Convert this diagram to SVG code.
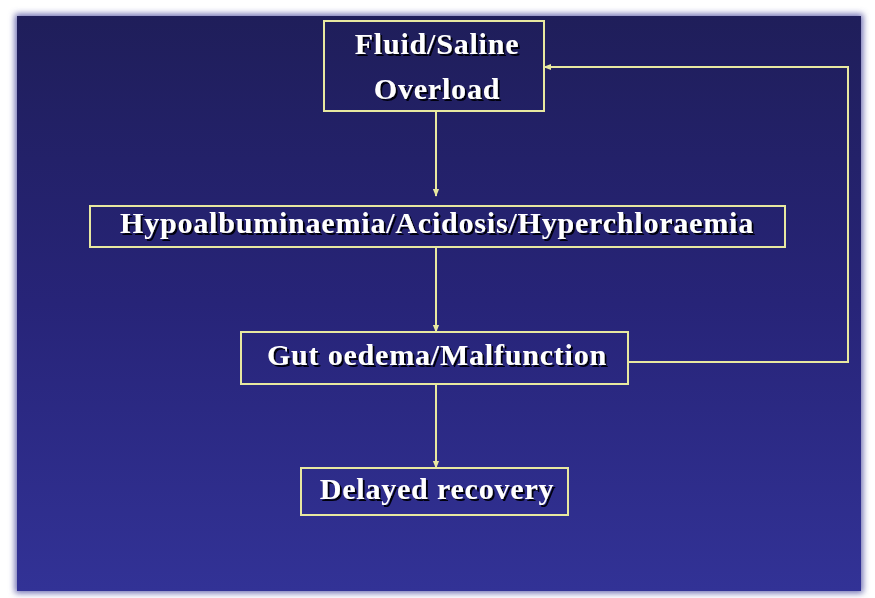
<svg xmlns="http://www.w3.org/2000/svg" width="875" height="598" viewBox="0 0 875 598">
<defs>
<linearGradient id="bg" x1="0" y1="0" x2="0" y2="1">
<stop offset="0" stop-color="#1f1e5a"/>
<stop offset="0.5" stop-color="#272478"/>
<stop offset="1" stop-color="#323296"/>
</linearGradient>
<filter id="blur" x="-5%" y="-5%" width="110%" height="110%"><feGaussianBlur stdDeviation="3"/></filter>
<filter id="ts" x="-10%" y="-30%" width="120%" height="160%"><feDropShadow dx="2" dy="2" stdDeviation="0.7" flood-color="#000010" flood-opacity="1"/></filter>
<marker id="ah" viewBox="0 0 10 10" refX="9" refY="5" markerWidth="8" markerHeight="8" markerUnits="userSpaceOnUse" orient="auto">
<path d="M0,1 L10,5 L0,9 Z" fill="#e8e8a0"/>
</marker>
</defs>
<style>
.box{fill:none;stroke:#e8e8a0;stroke-width:2}
.lbl{font-family:"Liberation Serif","Times New Roman",serif;font-weight:bold;font-size:30px;letter-spacing:0.8px;fill:#ffffff;text-anchor:middle;filter:url(#ts)}
.con{fill:none;stroke:#e8e8a0;stroke-width:2}
</style>
<rect width="875" height="598" fill="#ffffff"/>
<rect x="15" y="14" width="848" height="579" fill="#6a6ab0" filter="url(#blur)"/>
<rect x="17" y="16" width="844" height="575" fill="url(#bg)"/>
<g id="n1">
<rect class="box" x="324" y="21" width="220" height="90"/>
<text class="lbl" x="437" y="54">Fluid/Saline</text>
<text class="lbl" x="437" y="99">Overload</text>
</g>
<g id="n2">
<rect class="box" x="90" y="206" width="695" height="41"/>
<text class="lbl" x="437" y="233">Hypoalbuminaemia/Acidosis/Hyperchloraemia</text>
</g>
<g id="n3">
<rect class="box" x="241" y="332" width="387" height="52"/>
<text class="lbl" x="437" y="365">Gut oedema/Malfunction</text>
</g>
<g id="n4">
<rect class="box" x="301" y="468" width="267" height="47"/>
<text class="lbl" x="437" y="499">Delayed recovery</text>
</g>
<g id="connectors">
<line class="con" x1="436" y1="111" x2="436" y2="196" marker-end="url(#ah)"/>
<line class="con" x1="436" y1="247" x2="436" y2="332" marker-end="url(#ah)"/>
<line class="con" x1="436" y1="384" x2="436" y2="468" marker-end="url(#ah)"/>
<polyline class="con" points="628,362 848,362 848,67 544,67" marker-end="url(#ah)"/>
</g>
</svg>
